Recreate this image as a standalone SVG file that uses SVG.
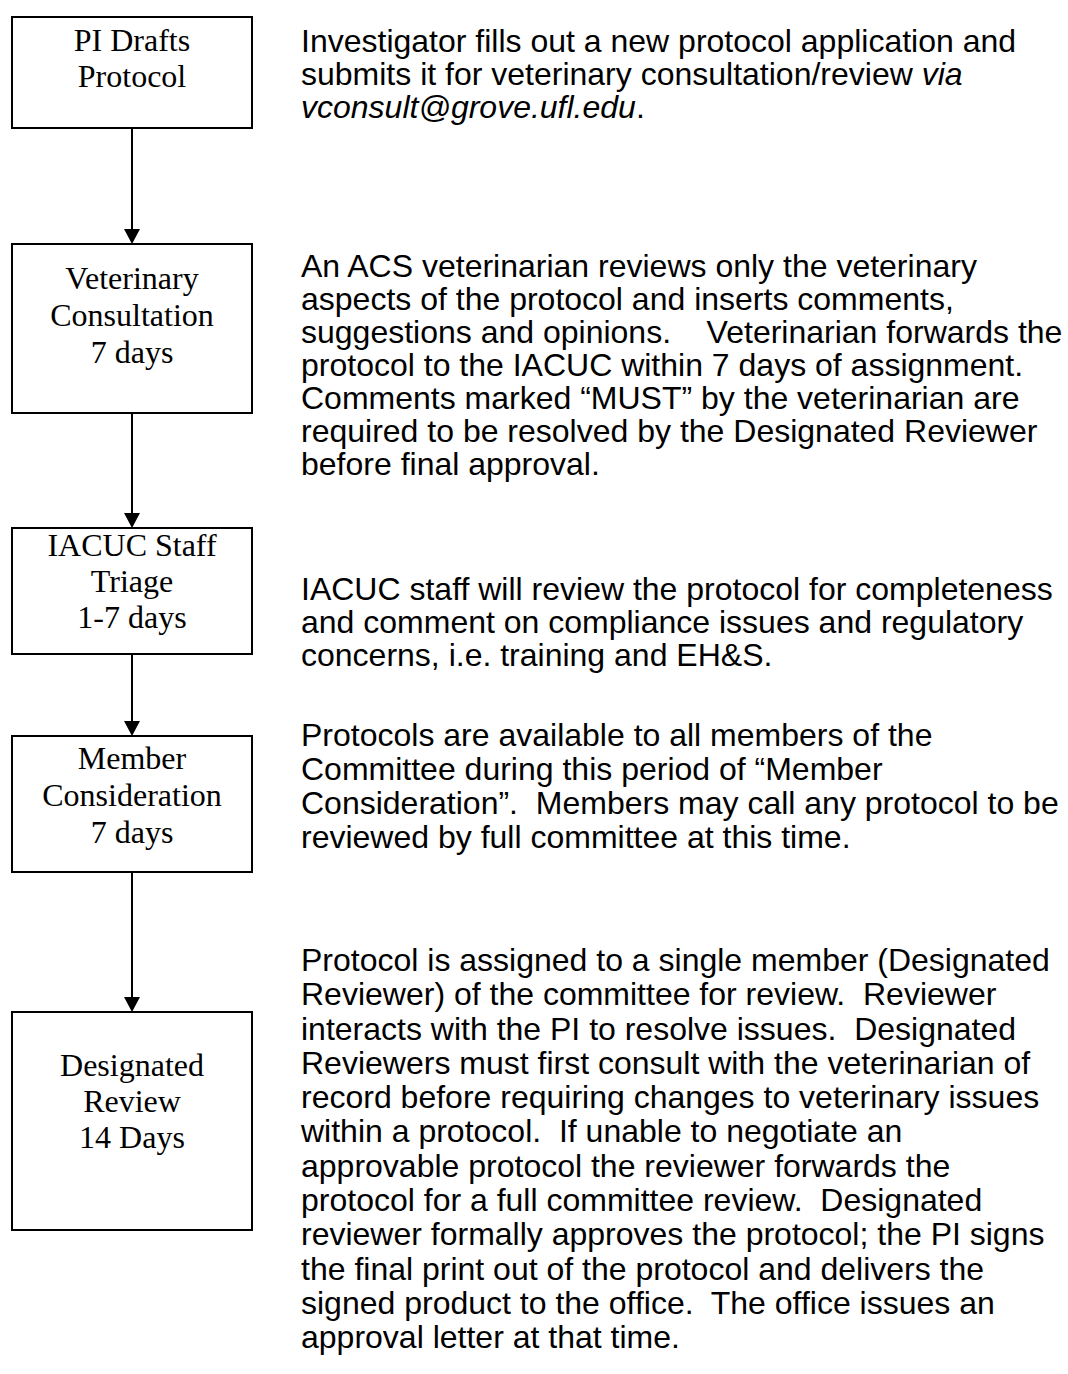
<svg xmlns="http://www.w3.org/2000/svg" width="1068" height="1374" viewBox="0 0 1068 1374">
<style>
.box{fill:#fff;stroke:#000;stroke-width:2}
.bt{font-family:"Liberation Serif","Times New Roman",serif;font-size:32px;fill:#000;text-anchor:middle}
.pt{font-family:"Liberation Sans",Arial,sans-serif;font-size:32px;fill:#000;white-space:pre}
.it{font-style:italic}
.conn{stroke:#000;stroke-width:2;fill:none;marker-end:url(#ah)}
</style>
<defs>
<marker id="ah" markerUnits="userSpaceOnUse" markerWidth="16" markerHeight="16" refX="0" refY="8" orient="auto">
<path d="M0,0 L15,8 L0,16 Z" fill="#000"/>
</marker>
</defs>
<rect width="1068" height="1374" fill="#fff"/>
<g id="connectors">
<line class="conn" x1="132" y1="128" x2="132" y2="229"/>
<line class="conn" x1="132" y1="413" x2="132" y2="513"/>
<line class="conn" x1="132" y1="654" x2="132" y2="721"/>
<line class="conn" x1="132" y1="872" x2="132" y2="997"/>
</g>
<g id="node1">
<rect class="box" x="12" y="17" width="240" height="111"/>
<text class="bt" x="132" y="51">PI Drafts</text>
<text class="bt" x="132" y="87">Protocol</text>
</g>
<g id="node2">
<rect class="box" x="12" y="244" width="240" height="169"/>
<text class="bt" x="132" y="289">Veterinary</text>
<text class="bt" x="132" y="326">Consultation</text>
<text class="bt" x="132" y="363">7 days</text>
</g>
<g id="node3">
<rect class="box" x="12" y="528" width="240" height="126"/>
<text class="bt" x="132" y="556">IACUC Staff</text>
<text class="bt" x="132" y="592">Triage</text>
<text class="bt" x="132" y="628">1-7 days</text>
</g>
<g id="node4">
<rect class="box" x="12" y="736" width="240" height="136"/>
<text class="bt" x="132" y="769">Member</text>
<text class="bt" x="132" y="806">Consideration</text>
<text class="bt" x="132" y="843">7 days</text>
</g>
<g id="node5">
<rect class="box" x="12" y="1012" width="240" height="218"/>
<text class="bt" x="132" y="1076">Designated</text>
<text class="bt" x="132" y="1112">Review</text>
<text class="bt" x="132" y="1148">14 Days</text>
</g>
<g id="desc1">
<text class="pt" x="301" y="52">Investigator fills out a new protocol application and</text>
<text class="pt" x="301" y="85">submits it for veterinary consultation/review <tspan class="it">via</tspan></text>
<text class="pt" x="301" y="118"><tspan class="it">vconsult@grove.ufl.edu</tspan>.</text>
</g>
<g id="desc2">
<text class="pt" x="301" y="277">An ACS veterinarian reviews only the veterinary</text>
<text class="pt" x="301" y="310">aspects of the protocol and inserts comments,</text>
<text class="pt" x="301" y="343">suggestions and opinions.    Veterinarian forwards the</text>
<text class="pt" x="301" y="376">protocol to the IACUC within 7 days of assignment.</text>
<text class="pt" x="301" y="409">Comments marked “MUST” by the veterinarian are</text>
<text class="pt" x="301" y="442">required to be resolved by the Designated Reviewer</text>
<text class="pt" x="301" y="475">before final approval.</text>
</g>
<g id="desc3">
<text class="pt" x="301" y="600">IACUC staff will review the protocol for completeness</text>
<text class="pt" x="301" y="633">and comment on compliance issues and regulatory</text>
<text class="pt" x="301" y="666">concerns, i.e. training and EH&amp;S.</text>
</g>
<g id="desc4">
<text class="pt" x="301" y="746">Protocols are available to all members of the</text>
<text class="pt" x="301" y="780">Committee during this period of “Member</text>
<text class="pt" x="301" y="814">Consideration”.  Members may call any protocol to be</text>
<text class="pt" x="301" y="848">reviewed by full committee at this time.</text>
</g>
<g id="desc5">
<text class="pt" x="301" y="971">Protocol is assigned to a single member (Designated</text>
<text class="pt" x="301" y="1005">Reviewer) of the committee for review.  Reviewer</text>
<text class="pt" x="301" y="1040">interacts with the PI to resolve issues.  Designated</text>
<text class="pt" x="301" y="1074">Reviewers must first consult with the veterinarian of</text>
<text class="pt" x="301" y="1108">record before requiring changes to veterinary issues</text>
<text class="pt" x="301" y="1142">within a protocol.  If unable to negotiate an</text>
<text class="pt" x="301" y="1177">approvable protocol the reviewer forwards the</text>
<text class="pt" x="301" y="1211">protocol for a full committee review.  Designated</text>
<text class="pt" x="301" y="1245">reviewer formally approves the protocol; the PI signs</text>
<text class="pt" x="301" y="1280">the final print out of the protocol and delivers the</text>
<text class="pt" x="301" y="1314">signed product to the office.  The office issues an</text>
<text class="pt" x="301" y="1348">approval letter at that time.</text>
</g>
</svg>
